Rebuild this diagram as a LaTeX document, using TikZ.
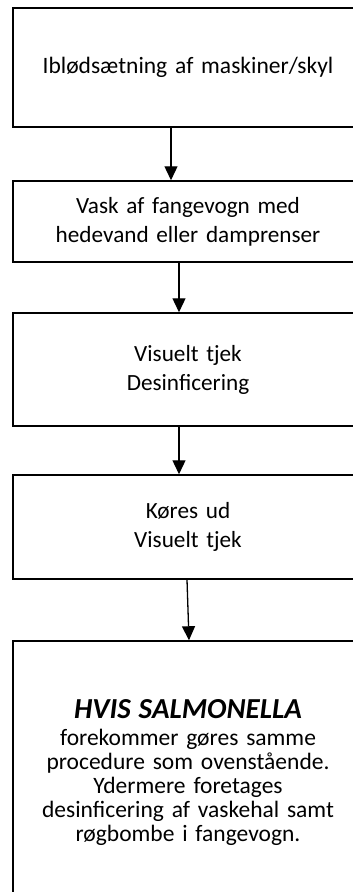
\documentclass[tikz,border=0pt]{standalone}
\usepackage{fontspec}
\setmainfont{Carlito}
\usepackage{tikz}
\usetikzlibrary{arrows.meta}

\tikzset{
	boks/.style={draw, line width=1.5pt, minimum width=350pt, text width=345pt, align=center, inner sep=0pt,
		font=\fontsize{23.2}{29}\selectfont},
	pil/.style={line width=1.3pt, -{Triangle[length=14pt, width=13pt]}}
}

\begin{document}
\begin{tikzpicture}[x=1pt, y=-1pt]
	\useasboundingbox (0,0) rectangle (353,892);
	\clip (0,0) rectangle (353,892);

	\node[boks, minimum height=119pt, font=\fontsize{23.5}{28}\selectfont] (b1) at (188,67.5) {Iblødsætning af maskiner/skyl};
	\node[boks, minimum height=81pt] (b2) at (188,221.5) {Vask af fangevogn med\\hedevand eller damprenser};
	\node[boks, minimum height=113pt] (b3) at (188,369.5) {Visuelt tjek\\Desinficering};
	\node[boks, minimum height=104pt] (b4) at (188,527) {Køres ud\\Visuelt tjek};
	\node[boks, minimum height=264pt, font=\fontsize{23.5}{24.2}\selectfont] (b5) at (188,773)
		{{\fontsize{29}{27}\selectfont\bfseries\itshape HVIS SALMONELLA}\\[2pt]forekommer gøres samme\\procedure som ovenstående.\\Ydermere foretages\\desinficering af vaskehal samt\\røgbombe i fangevogn.};

	\draw[pil] ([xshift=-17]b1.south) -- ([xshift=-17]b2.north);
	\draw[pil] ([xshift=-9]b2.south) -- ([xshift=-9]b3.north);
	\draw[pil] ([xshift=-9]b3.south) -- ([xshift=-9]b4.north);
	\draw[pil] ([xshift=-1]b4.south) -- ([xshift=1]b5.north);
\end{tikzpicture}
\end{document}
